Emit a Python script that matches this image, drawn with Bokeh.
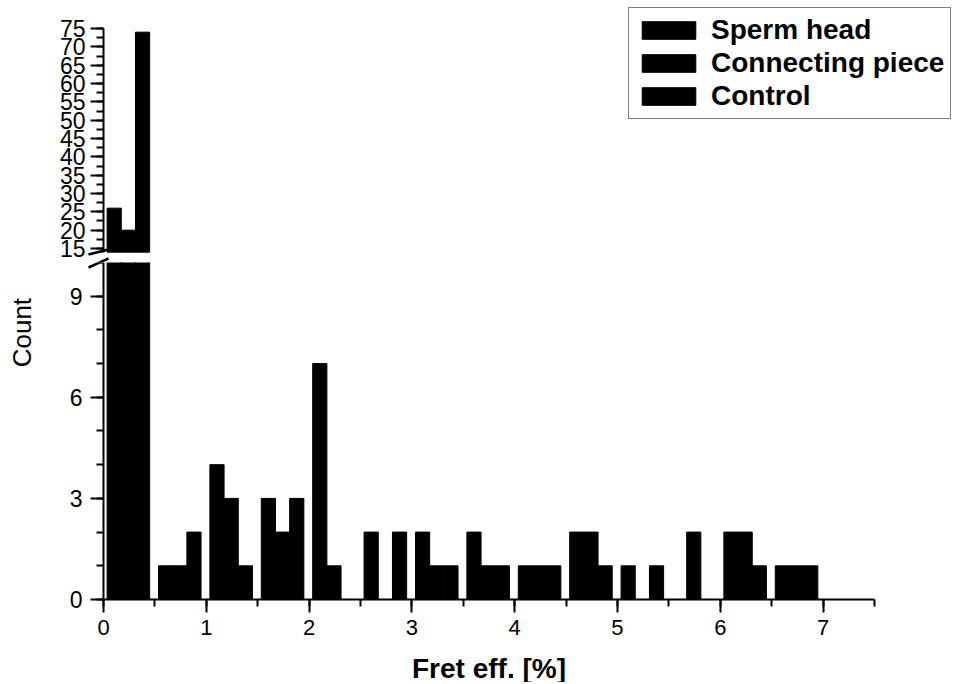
import numpy as np
from bokeh.plotting import figure
from bokeh.layouts import column
from bokeh.models import FixedTicker, Label, Legend, LegendItem, ColumnDataSource, Range1d
from bokeh.embed import file_html
from bokeh.resources import INLINE

# ---- data ----
bin_starts = [0.0, 0.5, 1.0, 1.5, 2.0, 2.5, 3.0, 3.5, 4.0, 4.5, 5.0, 5.5, 6.0, 6.5]
sperm_head = [26, 1, 4, 3, 7, 2, 2, 2, 1, 2, 1, 0, 2, 1]
connecting_piece = [20, 1, 3, 2, 1, 0, 1, 1, 1, 2, 0, 2, 2, 1]
control = [74, 2, 1, 3, 0, 2, 1, 1, 1, 1, 1, 0, 1, 1]
series_names = ["Sperm head", "Connecting piece", "Control"]
series_values = [sperm_head, connecting_piece, control]
x_ticks = [0, 1, 2, 3, 4, 5, 6, 7]
low_ticks = [0, 3, 6, 9]
high_ticks = [15, 20, 25, 30, 35, 40, 45, 50, 55, 60, 65, 70, 75]

FONT = "Liberation Sans"
BAR_OFFSET = 0.035
BAR_W = 0.138
BREAK_LOW = 14.0     # upper panel starts here (axis break)
X_MIN, X_MAX = 0, 7.5
LOW_MAX = 10
HIGH_MAX = 75

# panel geometry (pixels)
FRAME_W = 956
UP_H, LO_H = 262, 420
UP_YR = (11.18, 82.64)
LO_YR = (-2.463, LOW_MAX)
xr = Range1d(-1.002, 8.298)
PX_X = FRAME_W / (xr.end - xr.start)
PX_UP = UP_H / (UP_YR[1] - UP_YR[0])
PX_LO = LO_H / (LO_YR[1] - LO_YR[0])

# axis-break slashes, in pixels relative to (x=0, panel boundary); +dy is downward
BREAK_SLASHES = [((-15, -8), (5, -13)), ((-15, 5), (5, -4))]

def sources(min_top=None):
    out = []
    for j, vals in enumerate(series_values):
        vals = np.array(vals, dtype=float)
        left = np.array(bin_starts) + BAR_OFFSET + j * BAR_W
        keep = np.ones(len(vals), bool) if min_top is None else vals > min_top
        out.append(ColumnDataSource(dict(left=left[keep], right=left[keep] + BAR_W,
                                         top=vals[keep])))
    return out

def draw_break(p, y_boundary, px_per_unit):
    x0 = [a[0] / PX_X for a, b in BREAK_SLASHES]
    x1 = [b[0] / PX_X for a, b in BREAK_SLASHES]
    y0 = [y_boundary - a[1] / px_per_unit for a, b in BREAK_SLASHES]
    y1 = [y_boundary - b[1] / px_per_unit for a, b in BREAK_SLASHES]
    p.segment(x0=x0, y0=y0, x1=x1, y1=y1, line_color="black", line_width=2.5)

def style_axis(ax, size):
    ax.axis_line_width = 2
    ax.axis_line_color = "black"
    ax.major_tick_line_width = 2
    ax.minor_tick_line_width = 2
    ax.major_tick_line_color = "black"
    ax.minor_tick_line_color = "black"
    ax.major_tick_in = 0
    ax.minor_tick_in = 0
    ax.major_tick_out = 13
    ax.minor_tick_out = 7
    ax.major_label_text_font = FONT
    ax.major_label_text_font_size = size
    ax.major_label_text_color = "black"
    ax.axis_label_text_font = FONT
    ax.axis_label_text_font_style = "bold"
    ax.axis_label_text_font_size = "28px"
    ax.axis_label_text_color = "black"

common = dict(output_backend="svg", toolbar_location=None, frame_width=FRAME_W,
              min_border_left=0, min_border_right=0, x_range=xr)

# ---- upper panel (15..75) ----
up = figure(frame_height=UP_H, y_range=UP_YR, min_border_top=0,
            min_border_bottom=0, x_axis_location=None, **common)
up.grid.visible = False
up.outline_line_color = None
up.yaxis.fixed_location = 0
up.yaxis.bounds = (BREAK_LOW, HIGH_MAX)
up.yaxis.ticker = FixedTicker(ticks=high_ticks,
                              minor_ticks=list(np.arange(15, 75.1, 2.5)))
style_axis(up.yaxis[0], "23px")
up.yaxis.major_label_standoff = 5
items = []
for name, src in zip(series_names, sources(BREAK_LOW)):
    r = up.quad(left="left", right="right", bottom=BREAK_LOW, top="top", source=src,
                fill_color="black", line_color="black")
    items.append(LegendItem(label=name, renderers=[r]))
leg = Legend(items=items, location=(628, 143), glyph_width=67, glyph_height=22,
             label_text_font=FONT, label_text_font_size="28px",
             label_text_font_style="bold", label_text_color="black",
             label_standoff=9, spacing=1, padding=6, margin=0,
             border_line_color="black", border_line_width=1.5, label_height=22,
             background_fill_alpha=1)
up.add_layout(leg)
draw_break(up, UP_YR[0], PX_UP)

# ---- lower panel (0..10) ----
lo = figure(frame_height=LO_H, y_range=LO_YR, min_border_top=0,
            min_border_bottom=0, **common)
lo.grid.visible = False
lo.outline_line_color = None
lo.yaxis.fixed_location = 0
lo.xaxis.fixed_location = 0
lo.yaxis.bounds = (0, LOW_MAX)
lo.xaxis.bounds = (X_MIN, X_MAX)
lo.xaxis.ticker = FixedTicker(ticks=x_ticks, minor_ticks=list(np.arange(0, 7.51, 0.5)))
lo.yaxis.ticker = FixedTicker(ticks=low_ticks, minor_ticks=list(range(0, 11)))
style_axis(lo.xaxis[0], "22px")
style_axis(lo.yaxis[0], "23px")
lo.xaxis.axis_label = "Fret eff. [%]"
lo.xaxis.major_label_standoff = 8
lo.xaxis.axis_label_standoff = 14
lo.yaxis.major_label_standoff = 8
for src in sources():
    lo.quad(left="left", right="right", bottom=0, top="top", source=src,
            fill_color="black", line_color="black")
draw_break(lo, LO_YR[1], PX_LO)

lo.add_layout(Label(x=-0.79, y=7.92, text="Count", angle=np.pi / 2,
                    text_font=FONT, text_font_size="26px", text_color="black",
                    text_align="center", text_baseline="middle"))

layout = column(up, lo, spacing=0)
open("out.html", "w").write(file_html(layout, INLINE))
